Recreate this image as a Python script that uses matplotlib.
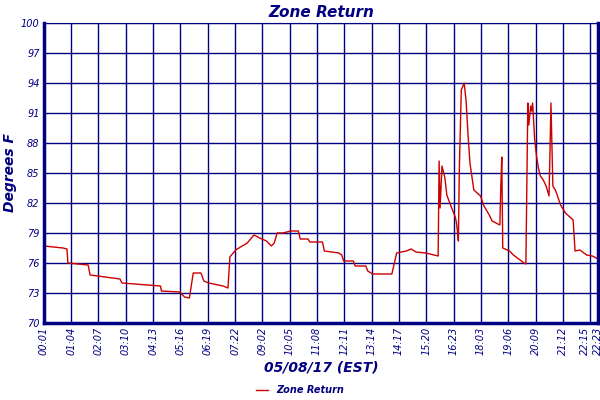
import matplotlib.pyplot as plt
import numpy as np

# (sample index, temperature) readings taken off the chart
readings = [
    (0, 77.7), (20, 77.5), (24, 77.4), (25, 76.0), (46, 75.8), (48, 74.8), (79, 74.4), (81, 74.0),
    (121, 73.7), (122, 73.2), (141, 73.1), (146, 72.6), (151, 72.5), (155, 75.0), (163, 75.0),
    (166, 74.2), (171, 74.0), (186, 73.7), (191, 73.5), (193, 76.6), (199, 77.3), (204, 77.6),
    (211, 78.0), (218, 78.8), (224, 78.5), (231, 78.2), (236, 77.7), (239, 78.0), (242, 79.0),
    (248, 79.0), (256, 79.2), (264, 79.2), (266, 78.4), (274, 78.4), (276, 78.1), (289, 78.1),
    (291, 77.2), (306, 77.0), (309, 76.8), (311, 76.2), (321, 76.2), (323, 75.7), (334, 75.7),
    (336, 75.2), (341, 74.9), (361, 74.9), (366, 77.0), (376, 77.2), (381, 77.4), (386, 77.1),
    (396, 77.0), (409, 76.7), (410, 86.2), (411, 81.5), (413, 85.7), (416, 84.5), (418, 82.8),
    (423, 81.5), (426, 80.8), (427, 80.5), (428, 80.0), (429, 79.2), (430, 78.2), (431, 85.5),
    (433, 93.3), (436, 94.0), (438, 92.2), (440, 88.8), (442, 86.0), (446, 83.3), (453, 82.7),
    (456, 81.8), (462, 80.8), (465, 80.2), (473, 79.8), (474, 83.7), (475, 86.6), (476, 77.5),
    (483, 77.2), (487, 76.8), (494, 76.3), (498, 76.0), (500, 75.9), (501, 83.8), (502, 92.0),
    (503, 89.8), (505, 91.7), (506, 91.2), (507, 92.0), (509, 88.5), (511, 86.7), (513, 85.5),
    (515, 84.7), (518, 84.3), (521, 83.7), (524, 82.7), (525, 87.2), (526, 92.0), (527, 87.8),
    (528, 83.7), (531, 83.2), (536, 81.8), (541, 81.0), (549, 80.3), (551, 77.2), (556, 77.3),
    (563, 76.8), (569, 76.7), (575, 76.4),
]
sample = [r[0] * 554 / 575 for r in readings]
temp = [r[1] for r in readings]

tick_labels = ['00:01', '01:04', '02:07', '03:10', '04:13', '05:16', '06:19', '07:22',
               '09:02', '10:05', '11:08', '12:11', '13:14', '14:17', '15:20', '16:23',
               '18:03', '19:06', '20:09', '21:12', '22:15', '22:23']
tick_pos = [i * 27.3 for i in range(21)] + [554]

navy = '#000080'
fig = plt.figure(figsize=(6, 4), dpi=100)
ax = fig.add_axes([0.073, 0.1925, 0.924, 0.75])
ax.plot(sample, temp, color='#cc0000', linewidth=1, label='Zone Return')

ax.set_xlim(0, 554)
ax.set_ylim(70, 100)
ax.set_yticks(np.arange(70, 101, 3))
ax.set_yticklabels([str(v) for v in range(70, 101, 3)], fontsize=7, style='italic', color=navy)
ax.set_xticks(tick_pos)
ax.set_xticklabels(tick_labels, rotation=90, fontsize=7, style='italic', color=navy)
ax.get_xticklabels()[-2].set_horizontalalignment('right')
ax.tick_params(length=0, pad=3)
ax.grid(True, color=navy, linewidth=1)
for s in ax.spines.values():
    s.set_color(navy)
ax.spines['left'].set_linewidth(2.5)
ax.spines['bottom'].set_linewidth(2.5)
ax.spines['right'].set_linewidth(2.5)

ax.set_title('Zone Return', fontsize=11, style='italic', weight='bold', color=navy, pad=4)
ax.set_ylabel('Degrees F', fontsize=10, style='italic', weight='bold', color=navy, labelpad=3)
ax.set_xlabel('05/08/17 (EST)', fontsize=10, style='italic', weight='bold', color=navy, labelpad=4)
fig.legend(loc='lower center', frameon=False, prop={'size': 7, 'style': 'italic', 'weight': 'bold'},
           labelcolor=navy, handlelength=1.2, bbox_to_anchor=(0.5, -0.01))

fig.savefig('out.png')
